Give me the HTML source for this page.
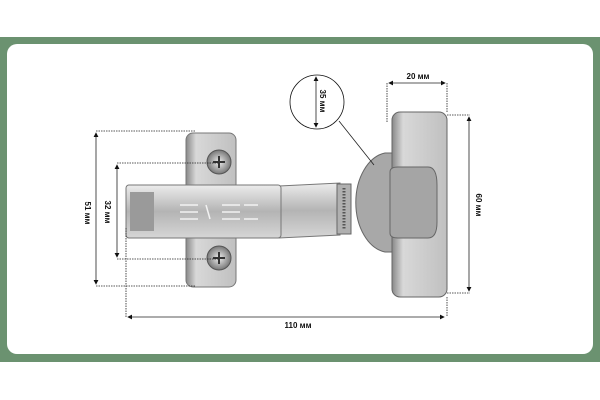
<!DOCTYPE html>
<html><head><meta charset="utf-8"><style>
html,body{margin:0;padding:0;background:#fff;}
svg{display:block;}
text{font-family:"Liberation Sans",sans-serif;font-weight:bold;font-size:8px;fill:#111;}
</style></head><body>
<svg width="600" height="400" viewBox="0 0 600 400">
<defs>
<linearGradient id="m" x1="0" y1="0" x2="0" y2="1"><stop offset="0" stop-color="#ececec"/><stop offset="0.5" stop-color="#b4b4b4"/><stop offset="1" stop-color="#d6d6d6"/></linearGradient>
<linearGradient id="p" x1="0" y1="0" x2="1" y2="0"><stop offset="0" stop-color="#888"/><stop offset="0.2" stop-color="#d8d8d8"/><stop offset="1" stop-color="#c0c0c0"/></linearGradient>
<radialGradient id="s"><stop offset="0" stop-color="#eee"/><stop offset="1" stop-color="#777"/></radialGradient>
<marker id="a" markerWidth="6" markerHeight="6" refX="5" refY="3" orient="auto-start-reverse"><path d="M0,0 L6,3 L0,6z" fill="#111"/></marker>
</defs>
<rect x="0" y="37" width="600" height="325" fill="#6b9270"/>
<rect x="7" y="44" width="586" height="310" rx="10" fill="#fff"/>
<!-- mount plate -->
<rect x="186" y="133" width="50" height="154" rx="7" fill="url(#p)" stroke="#777" stroke-width="1"/>
<!-- cup semicircle -->
<path d="M392,153 L385,153 A34,50 0 0,0 385,252 L392,252 Z" fill="#a8a8a8" stroke="#666"/>
<!-- neck -->
<path d="M279,186 L340,183 L340,235 L279,238 Z" fill="url(#m)" stroke="#777"/>
<rect x="337" y="184" width="14" height="50" fill="#b0b0b0" stroke="#666"/>
<line x1="344" y1="188" x2="344" y2="230" stroke="#555" stroke-width="3" stroke-dasharray="1.5,1.5"/>
<!-- body -->
<rect x="126" y="185" width="155" height="53" rx="3" fill="url(#m)" stroke="#777"/>
<rect x="130" y="192" width="24" height="39" fill="#9a9a9a"/>
<g stroke="#f2f2f2" stroke-width="1.5"><line x1="180" y1="205" x2="198" y2="205"/><line x1="180" y1="212" x2="198" y2="212"/><line x1="180" y1="219" x2="198" y2="219"/><line x1="206" y1="205" x2="210" y2="219"/><line x1="222" y1="205" x2="240" y2="205"/><line x1="222" y1="212" x2="240" y2="212"/><line x1="222" y1="219" x2="240" y2="219"/><line x1="244" y1="205" x2="258" y2="205"/><line x1="244" y1="219" x2="258" y2="219"/></g>
<!-- plate right -->
<rect x="392" y="112" width="55" height="185" rx="8" fill="url(#p)" stroke="#666"/>
<path d="M390,172 Q390,167 398,167 L428,167 Q437,167 437,185 L437,222 Q437,238 428,238 L398,238 Q390,238 390,233Z" fill="#a5a5a5" stroke="#666"/>
<!-- screws -->
<circle cx="219" cy="162" r="12" fill="url(#s)" stroke="#555"/>
<circle cx="219" cy="258" r="12" fill="url(#s)" stroke="#555"/>
<g stroke="#333" stroke-width="2"><line x1="213" y1="162" x2="225" y2="162"/><line x1="219" y1="156" x2="219" y2="168"/><line x1="213" y1="258" x2="225" y2="258"/><line x1="219" y1="252" x2="219" y2="264"/></g>
<!-- dimension lines -->
<g stroke="#222" stroke-width="0.8" fill="none">
<path d="M96,131 H195 M96,286 H195 M117,163 H219 M117,259 H219 M126,228 V317 M387,83 V122 M447,83 V112 M447,115 H470 M447,293 H470 M447,297 V317" stroke-dasharray="1.5,1"/>
<line x1="96" y1="133" x2="96" y2="284" marker-start="url(#a)" marker-end="url(#a)"/>
<line x1="117" y1="165" x2="117" y2="257" marker-start="url(#a)" marker-end="url(#a)"/>
<line x1="128" y1="317" x2="444" y2="317" marker-start="url(#a)" marker-end="url(#a)"/>
<line x1="389" y1="83" x2="445" y2="83" marker-start="url(#a)" marker-end="url(#a)"/>
<line x1="469" y1="117" x2="469" y2="291" marker-start="url(#a)" marker-end="url(#a)"/>
<circle cx="317" cy="102" r="27" stroke="#111"/>
<line x1="316" y1="77" x2="316" y2="127" marker-start="url(#a)" marker-end="url(#a)"/>
<line x1="339" y1="121" x2="374" y2="165"/>
</g>
<text x="418" y="79" text-anchor="middle">20 мм</text>
<text x="298" y="328" text-anchor="middle">110 мм</text>
<text transform="translate(85,213) rotate(90)" text-anchor="middle">51 мм</text>
<text transform="translate(105,212) rotate(90)" text-anchor="middle">32 мм</text>
<text transform="translate(476,205) rotate(90)" text-anchor="middle">60 мм</text>
<text transform="translate(320,101) rotate(90)" text-anchor="middle">35 мм</text>
</svg>
</body></html>
